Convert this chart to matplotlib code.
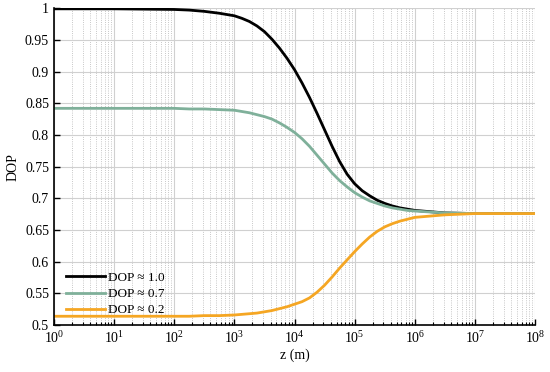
import numpy as np
import matplotlib.pyplot as plt

plt.rcParams['font.family'] = ['Liberation Serif', 'DejaVu Serif']

# log10(z) positions and DOP values
logz = [0, 1, 2, 2.25, 2.5, 2.75,
        3.0, 3.125, 3.25, 3.375, 3.5, 3.625, 3.75, 3.875,
        4.0, 4.125, 4.25, 4.375, 4.5, 4.625, 4.75, 4.875,
        5.0, 5.125, 5.25, 5.375, 5.5, 5.625, 5.75, 5.875,
        6.0, 6.5, 7, 8]
dop_10 = [0.999, 0.999, 0.998, 0.997, 0.995, 0.992,
          0.988, 0.984, 0.979, 0.972, 0.963, 0.951, 0.937, 0.921,
          0.903, 0.882, 0.859, 0.834, 0.808, 0.782, 0.758, 0.738,
          0.723, 0.712, 0.704, 0.697, 0.692, 0.688, 0.685, 0.683,
          0.681, 0.677, 0.676, 0.676]
dop_07 = [0.842, 0.842, 0.842, 0.841, 0.841, 0.840,
          0.839, 0.837, 0.835, 0.832, 0.829, 0.825, 0.819, 0.812,
          0.804, 0.794, 0.782, 0.768, 0.754, 0.740, 0.728, 0.718,
          0.709, 0.702, 0.696, 0.692, 0.688, 0.685, 0.683, 0.681,
          0.680, 0.677, 0.676, 0.676]
dop_02 = [0.514, 0.514, 0.514, 0.514, 0.515, 0.515,
          0.516, 0.517, 0.518, 0.519, 0.521, 0.523, 0.526, 0.529,
          0.533, 0.537, 0.543, 0.552, 0.563, 0.576, 0.590, 0.603,
          0.616, 0.628, 0.639, 0.648, 0.655, 0.660, 0.664, 0.667,
          0.670, 0.674, 0.676, 0.676]
labels = ['DOP ≈ 1.0', 'DOP ≈ 0.7', 'DOP ≈ 0.2']
colors = ['#000000', '#7fb09a', '#f5a623']

z = 10.0 ** np.array(logz)

fig = plt.figure(figsize=(5.5, 3.72), dpi=100)
ax = fig.add_axes([0.098, 0.126, 0.875, 0.852])

for y, lab, c in zip([dop_10, dop_07, dop_02], labels, colors):
    ax.plot(z, y, color=c, lw=2, label=lab)

ax.set_xscale('log')
ax.set_xlim(1, 1e8)
ax.set_ylim(0.5, 1.0)
ax.set_xticks(10.0 ** np.arange(0, 9))
ax.set_yticks(np.arange(0.5, 1.001, 0.05))
ax.set_yticklabels(['0.5', '0.55', '0.6', '0.65', '0.7', '0.75', '0.8', '0.85', '0.9', '0.95', '1'])

ax.grid(which='major', color='#d0d0d0', lw=0.8)
ax.grid(which='minor', axis='x', color='#b5b5b5', lw=0.6, ls=':')
ax.set_axisbelow(True)

ax.spines['top'].set_visible(False)
ax.spines['right'].set_visible(False)
ax.spines['left'].set_linewidth(1.2)
ax.spines['bottom'].set_linewidth(1.2)
ax.tick_params(which='both', direction='in', labelsize=10)
ax.tick_params(which='major', length=4, width=1)
ax.tick_params(which='minor', length=2.5, width=0.8)
ax.tick_params(axis='y', which='minor', left=False)

ax.set_xlabel('z (m)', fontsize=10, labelpad=2)
ax.set_ylabel('DOP', fontsize=10, labelpad=4)

ax.legend(loc='lower left', bbox_to_anchor=(0.0, -0.01), frameon=False, fontsize=9.5,
          handlelength=3.0, handletextpad=0.2, labelspacing=0.3)

fig.savefig('out.png', dpi=100)
